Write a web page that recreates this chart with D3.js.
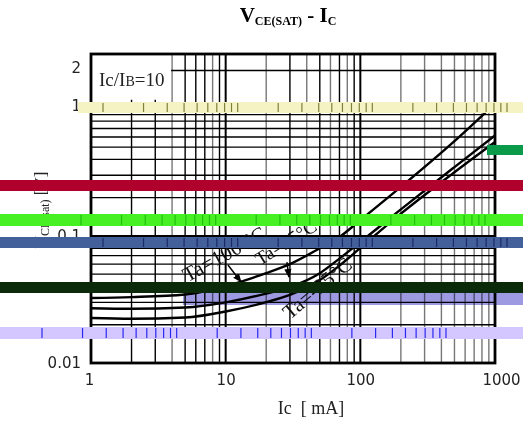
<!DOCTYPE html>
<html>
<head>
<meta charset="utf-8">
<script src="https://cdn.jsdelivr.net/npm/d3@7"></script>
<style>
body { margin: 0; background: #fff; }
svg { display: block; }
</style>
</head>
<body>
<svg width="523" height="426"></svg>
<script>
// collector current [mA]
const ic = [1, 2, 5, 10, 20, 30, 50, 70, 100, 200, 500, 1000];
// VCE(sat) [V] per temperature
const vce100 = [0.0325, 0.033, 0.0346, 0.0403, 0.051, 0.060, 0.080, 0.098, 0.133, 0.243, 0.557, 1.1];
const vce25 = [0.0270, 0.0267, 0.0273, 0.0300, 0.0352, 0.0396, 0.0509, 0.0663, 0.0895, 0.1617, 0.348, 0.618];
const vceM25 = [0.0226, 0.0223, 0.0228, 0.0254, 0.0301, 0.0343, 0.0449, 0.0584, 0.0805, 0.1496, 0.317, 0.548];

const xTicks = [1, 10, 100, 1000];
const yTicks = [0.01, 0.1, 1, 2];
const seriesNames = ['Ta=100 °C', 'Ta=25°C', 'Ta=-25°C'];

const svg = d3.select('svg');

let x = d3.scaleLog().domain([1, 1000]).range([91, 495]);
let y = d3.scaleLog().domain([0.01, 2.7]).range([363, 54]);

// grid values 1..9 per decade
let xGrid = [];
[1, 10, 100].forEach(d => { for (let m = 1; m < 10; m++) xGrid.push(m * d); });
xGrid.push(1000);
let yGrid = [];
[0.01, 0.1].forEach(d => { for (let m = 1; m < 10; m++) yGrid.push(+(m * d).toFixed(3)); });
yGrid.push(1, 2);

const isDecade = v => Math.abs(Math.log10(v) - Math.round(Math.log10(v))) < 1e-6;

let grid = svg.append('g').attr('stroke', '#000');
grid.selectAll('line.v').data(xGrid).join('line')
    .attr('class', 'v')
    .attr('x1', d => x(d)).attr('x2', d => x(d))
    .attr('y1', y.range()[1]).attr('y2', y.range()[0])
    .attr('stroke-width', d => isDecade(d) ? 2 : 1.4)
    .attr('stroke', d => (d % 4 === 0 && !isDecade(d)) ? '#777' : '#000');
grid.selectAll('line.h').data(yGrid).join('line')
    .attr('class', 'h')
    .attr('x1', x.range()[0]).attr('x2', x.range()[1])
    .attr('y1', d => y(d)).attr('y2', d => y(d))
    .attr('stroke-width', d => isDecade(d) ? 2 : 1.4);

// label box over the grid
svg.append('rect')
    .attr('x', x(1) + 1).attr('y', y.range()[1] + 1)
    .attr('width', x(4) - x(1) - 2).attr('height', y(1.2) - y.range()[1])
    .attr('fill', '#fff');
svg.append('text')
    .attr('x', 99).attr('y', 86)
    .attr('font-family', 'Liberation Serif').attr('font-size', 19).attr('fill', '#222')
    .html('Ic/I<tspan font-size="14">B</tspan>=10');

// curves
svg.append('clipPath').attr('id', 'plot')
    .append('rect').attr('x', 91).attr('y', 54).attr('width', 404).attr('height', 309);

let line = d3.line()
    .x(d => x(d[0]))
    .y(d => y(d[1]))
    .curve(d3.curveMonotoneX);

[vce100, vce25, vceM25].forEach(vals => {
    svg.append('path')
        .attr('clip-path', 'url(#plot)')
        .attr('d', line(ic.map((c, i) => [c, vals[i]])))
        .attr('fill', 'none')
        .attr('stroke', '#000')
        .attr('stroke-width', 2.4);
});

// frame
svg.append('rect')
    .attr('x', 91).attr('y', 54).attr('width', 404).attr('height', 309)
    .attr('fill', 'none').attr('stroke', '#000').attr('stroke-width', 2.8);

// curve labels
const labelAt = [[5.2, 0.043, -29, 21], [18, 0.058, -32, 19], [30, 0.0218, -40, 21]];
seriesNames.forEach((name, i) => {
    let [c, v, a, s] = labelAt[i];
    svg.append('text')
        .attr('transform', `translate(${x(c)},${y(v)}) rotate(${a})`)
        .attr('font-family', 'Liberation Serif').attr('font-size', s).attr('fill', '#111')
        .text(name);
});

svg.append('defs').append('marker')
    .attr('id', 'head').attr('viewBox', '0 0 10 10')
    .attr('refX', 9).attr('refY', 5)
    .attr('markerWidth', 6).attr('markerHeight', 6).attr('orient', 'auto')
    .append('path').attr('d', 'M0,1 L10,5 L0,9 Z').attr('fill', '#000');

const arrows = [[[10.4, 0.059], [13, 0.0435]], [[28.5, 0.0623], [29.5, 0.0475]]];
arrows.forEach(([p, q]) => {
    svg.append('line')
        .attr('x1', x(p[0])).attr('y1', y(p[1]))
        .attr('x2', x(q[0])).attr('y2', y(q[1]))
        .attr('stroke', '#000').attr('stroke-width', 1.5)
        .attr('marker-end', 'url(#head)');
});

// axes (labels only)
let xAxis = svg.append('g')
    .attr('transform', 'translate(0,371)')
    .call(d3.axisBottom(x).tickValues(xTicks).tickFormat(d3.format('d')).tickSize(0));
xAxis.select('.domain').remove();
xAxis.selectAll('text').attr('font-family', 'DejaVu Sans').attr('font-size', 15).attr('fill', '#222');
xAxis.selectAll('.tick').filter(d => d === 1000).select('text').attr('dx', 6);
xAxis.selectAll('.tick').filter(d => d === 1).select('text').attr('dx', -2);

let yAxis = svg.append('g')
    .attr('transform', 'translate(84,0)')
    .call(d3.axisLeft(y).tickValues(yTicks).tickFormat(d => d).tickSize(0));
yAxis.select('.domain').remove();
yAxis.selectAll('text').attr('font-family', 'DejaVu Sans').attr('font-size', 15).attr('fill', '#222');
yAxis.selectAll('.tick').filter(d => d === 1).select('text').attr('dy', '0.1em');
yAxis.selectAll('.tick').filter(d => d === 2).select('text').attr('dy', '0.1em');

svg.append('text')
    .attr('x', 311).attr('y', 414).attr('text-anchor', 'middle')
    .attr('font-family', 'Liberation Serif').attr('font-size', 18).attr('fill', '#222')
    .attr('xml:space', 'preserve')
    .text('Ic  [ mA]');

svg.append('text')
    .attr('transform', 'translate(46,210) rotate(-90)')
    .attr('text-anchor', 'middle')
    .attr('font-family', 'Liberation Serif').attr('font-size', 17).attr('fill', '#222')
    .html('V<tspan font-size="12" dy="3">CE(sat)</tspan><tspan dy="-3"> [V]</tspan>');

svg.append('text')
    .attr('x', 288).attr('y', 22).attr('text-anchor', 'middle')
    .attr('font-family', 'Liberation Serif').attr('font-weight', 'bold').attr('font-size', 21)
    .html('V<tspan font-size="12" dy="3">CE(SAT)</tspan><tspan dy="-3"> - I</tspan><tspan font-size="12" dy="3">C</tspan>');

// scan streaks over the picture
const streaks = [
    { y0: 102, y1: 113, x0: 78, color: '#f5f3c4', tick: '#80803a', shift: 12, op: 1 },
    { y0: 180, y1: 191, x0: 0, color: '#b0002c', tick: null, op: 1 },
    { y0: 214, y1: 226, x0: 0, color: '#46f022', tick: '#20c010', shift: -10, op: 1 },
    { y0: 237, y1: 248, x0: 0, color: '#44609a', tick: '#1a2a66', shift: 12, op: 1 },
    { y0: 282, y1: 293, x0: 0, color: '#0a2a0a', tick: null, op: 1 },
    { y0: 293, y1: 305, x0: 183, color: '#8c88dc', tick: null, op: 0.85 },
    { y0: 327, y1: 339, x0: 0, color: '#d4c6ff', tick: '#2a2aee', shift: -49, op: 1 },
    { y0: 145, y1: 155, x0: 487, color: '#0a9a4a', tick: null, op: 1 }
];
let overlay = svg.append('g');
streaks.forEach(s => {
    overlay.append('rect')
        .attr('x', s.x0).attr('y', s.y0)
        .attr('width', 523 - s.x0).attr('height', s.y1 - s.y0)
        .attr('fill', s.color).attr('opacity', s.op)
        .style('mix-blend-mode', s.op < 1 ? 'multiply' : 'normal');
    if (s.tick) {
        overlay.selectAll(null).data(xGrid).join('line')
            .attr('x1', d => x(d) + s.shift).attr('x2', d => x(d) + s.shift)
            .attr('y1', s.y0 + 1).attr('y2', s.y1 - 1)
            .attr('stroke', s.tick).attr('stroke-width', 1.2);
    }
});
</script>
</body>
</html>
